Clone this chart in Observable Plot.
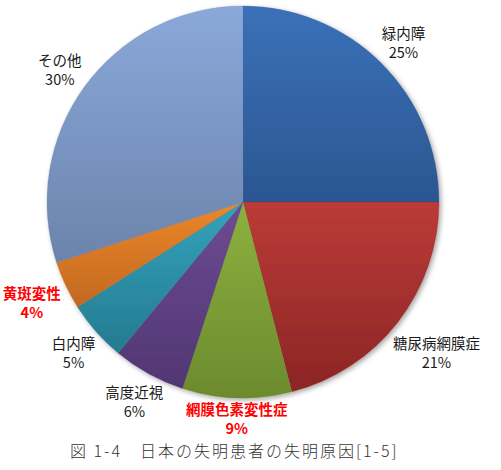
<!DOCTYPE html>
<html>
<head>
<meta charset="utf-8">
<script src="https://cdn.jsdelivr.net/npm/d3@7"></script>
<script src="https://cdn.jsdelivr.net/npm/@observablehq/plot@0.6"></script>
<style>
  html, body { margin: 0; padding: 0; background: #fff; }
  #wrap { width: 501px; height: 470px; position: relative; overflow: hidden; }
  #caption {
    position: absolute; left: 0; top: 442px; width: 501px; height: 16px;
    line-height: 16px; padding-left: 70px; box-sizing: border-box;
    font-family: "Noto Sans CJK JP", sans-serif; font-size: 16px; font-weight: 300;
    color: #333; letter-spacing: 2px; white-space: pre;
  }
</style>
</head>
<body>
<div id="wrap"><div id="chart"></div><div id="caption"></div></div>
<script>
// ---- data ----
const categories = ["緑内障", "糖尿病網膜症", "網膜色素変性症", "高度近視", "白内障", "黄斑変性", "その他"];
const values = [25, 21, 9, 6, 5, 4, 30];
const highlighted = [false, false, true, false, false, true, false];
const topColors = ["#3b71b9", "#bb3b38", "#8db13f", "#6d4b94", "#33a3bd", "#ec872b", "#8aa8da"];
const bottomColors = ["#2b5690", "#8b2524", "#6c8a2e", "#513672", "#257a8f", "#c2681f", "#6b84ab"];
const captionText = "図 1-4　日本の失明患者の失明原因[1-5]";

// ---- geometry derived from data ----
const total = d3.sum(values);
const pie = d3.pie().sort(null).value(d => d)(values);
const W = 501, H = 430;
const mL = 47, mR = 62, mT = 6, mB = 32;
const Rpx = (W - mL - mR) / 2;
const fontSize = 14.5;

const rows = categories.map((name, i) => {
  const a = (pie[i].startAngle + pie[i].endAngle) / 2;
  const w = name.length * fontSize;
  const h = 22;
  const dist = Rpx + 7 + (w / 2) * Math.abs(Math.sin(a)) + (h / 2) * Math.abs(Math.cos(a));
  return {
    name, value: values[i], hl: highlighted[i],
    label: `${name}\n${Math.round(values[i] / total * 100)}%`,
    x: dist / Rpx * Math.sin(a),
    y: dist / Rpx * Math.cos(a),
    i
  };
});

function pieMark(index, scales, vals, dims, context) {
  const cx = scales.x(0), cy = scales.y(0);
  const r = scales.x(1) - scales.x(0);
  const arc = d3.arc().innerRadius(0).outerRadius(r);
  const g = d3.create("svg:g");
  const defs = g.append("defs");
  const f = defs.append("filter").attr("id", "pieShadow").attr("x", "-10%").attr("y", "-10%").attr("width", "120%").attr("height", "120%");
  f.append("feDropShadow").attr("dx", 2).attr("dy", 2).attr("stdDeviation", 2.5).attr("flood-color", "#000").attr("flood-opacity", 0.35);
  pie.forEach((p, i) => {
    const lg = defs.append("linearGradient").attr("id", "grad" + i).attr("x1", 0).attr("y1", 0).attr("x2", 0).attr("y2", 1);
    lg.append("stop").attr("offset", "0%").attr("stop-color", topColors[i]);
    lg.append("stop").attr("offset", "100%").attr("stop-color", bottomColors[i]);
  });
  const sg = g.append("g").attr("transform", `translate(${cx},${cy})`).attr("filter", "url(#pieShadow)");
  sg.selectAll("path").data(pie).join("path")
    .attr("d", arc)
    .attr("fill", (d, i) => `url(#grad${i})`)
    .attr("stroke", (d, i) => bottomColors[i])
    .attr("stroke-width", 0.3);
  return g.node();
}

const chart = Plot.plot({
  width: W, height: H,
  marginLeft: mL, marginRight: mR, marginTop: mT, marginBottom: mB,
  x: { domain: [-1, 1], axis: null },
  y: { domain: [-1, 1], axis: null },
  style: { background: "#fff", overflow: "visible" },
  marks: [
    pieMark,
    Plot.text(rows.filter(d => !d.hl), {
      x: "x", y: "y", text: "label", fill: "#1a1a1a",
      fontSize, lineHeight: 1.31, fontFamily: "'Noto Sans CJK JP', sans-serif"
    }),
    Plot.text(rows.filter(d => d.hl), {
      x: "x", y: "y", text: "label", fill: "#ff0000", fontWeight: "bold",
      fontSize, lineHeight: 1.31, fontFamily: "'Noto Sans CJK JP', sans-serif"
    })
  ]
});
document.getElementById("chart").appendChild(chart);
document.getElementById("caption").textContent = captionText;
</script>
</body>
</html>
